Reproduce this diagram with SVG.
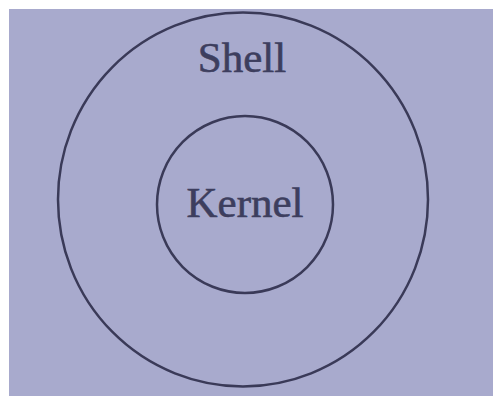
<svg xmlns="http://www.w3.org/2000/svg" width="494" height="396" viewBox="0 0 494 396">
<style>
.ring{fill:none;stroke:#3a3a58;stroke-width:2.5}
.lbl{font-family:"Liberation Serif","Times New Roman",serif;font-size:43px;fill:#3d3e5e;stroke:#3d3e5e;stroke-width:0.6;text-anchor:middle}
</style>
<rect x="0" y="0" width="494" height="396" fill="#ffffff"/>
<rect x="9" y="9" width="484" height="387" fill="#a8aacd"/>
<g id="shell">
<ellipse class="ring" cx="243" cy="199.5" rx="185" ry="187"/>
<text class="lbl" x="242" y="72">Shell</text>
</g>
<g id="kernel">
<ellipse class="ring" cx="245" cy="204.5" rx="88" ry="88.5"/>
<text class="lbl" x="245" y="217">Kernel</text>
</g>
<g id="connectors"/>
</svg>
